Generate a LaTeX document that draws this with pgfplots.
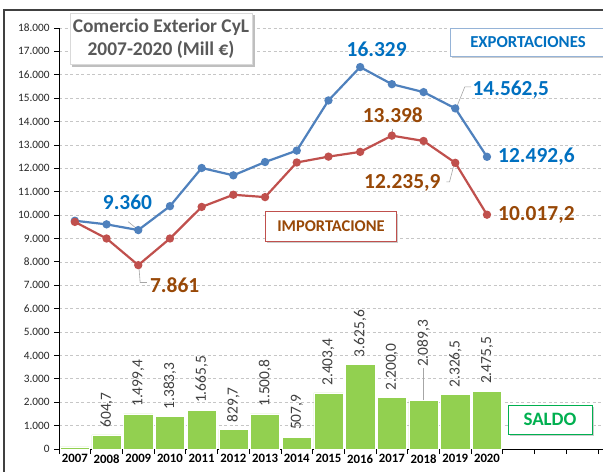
\documentclass[border=0pt]{standalone}
\usepackage{fontspec}
\setmainfont{Carlito}
\usepackage{pgfplots}
\pgfplotsset{compat=1.18}
\definecolor{expblue}{HTML}{4F81BD}
\definecolor{impred}{HTML}{C0504D}
\definecolor{lblue}{HTML}{0070C0}
\definecolor{lbrown}{HTML}{984807}
\definecolor{barg}{HTML}{92D050}
\definecolor{sgreen}{HTML}{00B050}
\definecolor{titgray}{HTML}{595959}
\newcommand\xl[1]{\bfseries\fontsize{12.8}{14}\selectfont #1}
\begin{document}
\begin{tikzpicture}
\useasboundingbox (0bp,0bp) rectangle (603bp,472bp);
\clip (0bp,0bp) rectangle (603bp,472bp);
\fill[white] (0bp,0bp) rectangle (603bp,472bp);
\draw[line width=1.6bp, black!75] (4bp,-5bp) -- (4bp,462bp) -- (620bp,462bp);
\begin{axis}[
  at={(59bp,23bp)}, anchor=south west, scale only axis,
  width=544bp, height=421bp,
  xmin=-0.5, xmax=16.66, ymin=0, ymax=18000,
  axis x line*=bottom, axis y line*=left,
  axis line style={-, black, line width=0.9bp},
  tick align=outside,
  major tick length=5bp,
  tick style={black, line width=0.8bp},
  ytick={0,1000,...,18000},
  scaled y ticks=false,
  yticklabel={\fontsize{11.3}{13}\selectfont\pgfmathprintnumber[fixed,precision=0,1000 sep={.},assume math mode=true]{\tick}},
  yticklabel style={text=black!85, xshift=-1bp},
  xtick={-0.5,0.5,...,16.5}, xticklabels={},
  extra x ticks={0,1,...,13},
  extra x tick labels={\xl{2007},\xl{2008},\xl{2009},\xl{2010},\xl{2011},\xl{2012},\xl{2013},\xl{2014},\xl{2015},\xl{2016},\xl{2017},\xl{2018},\xl{2019},\xl{2020}},
  extra x tick style={major tick length=0pt, grid=none},
  xticklabel style={text=black, yshift=-2bp},
  ymajorgrids=true,
  major grid style={gray!45, line width=0.7bp, dash pattern=on 3bp off 2.5bp},
  clip=false,
]
\addplot[ybar, bar width=0.92, fill=barg, draw=white, line width=0.4bp,
  nodes near coords, point meta=explicit symbolic,
  every node near coord/.append style={rotate=90, anchor=west, inner xsep=7bp,
     font=\fontsize{15.5}{17}\selectfont, text=black!75}]
 coordinates {(0,90) [] (1,604.7) [604,7] (2,1499.4) [1.499,4] (3,1383.3) [1.383,3]
  (4,1665.5) [1.665,5] (5,829.7) [829,7] (6,1500.8) [1.500,8] (7,507.9) [507,9]
  (8,2403.4) [2.403,4] (9,3625.6) [3.625,6] (10,2200.0) [2.200,0] (11,2089.3) []
  (12,2326.5) [2.326,5] (13,2475.5) [2.475,5]};
\addplot[color=expblue, line width=2.2bp, mark=*, mark size=3bp, mark options={solid, fill=expblue}]
 coordinates {(0,9760) (1,9605) (2,9360) (3,10383) (4,12015) (5,11700) (6,12270)
  (7,12758) (8,14903) (9,16329) (10,15598) (11,15259) (12,14562.5) (13,12492.6)};
\addplot[color=impred, line width=2.2bp, mark=*, mark size=3bp, mark options={solid, fill=impred}]
 coordinates {(0,9710) (1,9000) (2,7861) (3,9000) (4,10350) (5,10870) (6,10770)
  (7,12250) (8,12500) (9,12703.4) (10,13398) (11,13170) (12,12235.9) (13,10017.2)};
% 2018 saldo label with leader
\draw[gray!70, line width=0.6bp] (axis cs:11,2089.3) -- (axis cs:11,3480);
\node[rotate=90, anchor=west, inner xsep=0pt, font=\fontsize{15.5}{17}\selectfont, text=black!75] at (axis cs:11,3500) {2.089,3};
% line data labels
\begin{scope}[font=\bfseries\fontsize{21.5}{24}\selectfont]
\node[text=lblue] at (axis cs:1.66,10560) {9.360};
\node[text=lblue] at (axis cs:9.52,17090) {16.329};
\node[text=lblue] at (axis cs:13.75,15380) {14.562,5};
\node[text=lblue] at (axis cs:14.56,12500) {12.492,6};
\node[text=lbrown] at (axis cs:10.03,14280) {13.398};
\node[text=lbrown] at (axis cs:10.33,11360) {12.235,9};
\node[text=lbrown] at (axis cs:14.56,10005) {10.017,2};
\node[text=lbrown] at (axis cs:3.15,7010) {7.861};
\end{scope}
\draw[gray!70, line width=0.6bp] (axis cs:1.68,9720) -- (axis cs:1.95,9420);
\draw[gray!70, line width=0.6bp] (axis cs:12.5,15480) -- (axis cs:12.3,15480) -- (axis cs:12.05,14640);
\draw[gray!70, line width=0.6bp] (axis cs:10,13700) -- (axis cs:10,13460);
\draw[gray!70, line width=0.6bp] (axis cs:11.72,11420) -- (axis cs:11.82,11420) -- (axis cs:11.96,12170);
\draw[gray!70, line width=0.6bp] (axis cs:2.02,7800) -- (axis cs:2.06,7120) -- (axis cs:2.27,7120);
\end{axis}
% title box
\fill[black!25] (72bp,405bp) rectangle (255bp,457bp);
\filldraw[fill=white, draw=black!15, line width=0.5bp] (70bp,408bp) rectangle (252bp,459bp);
\node[align=center, text=titgray, font=\bfseries\fontsize{19.5}{23}\selectfont] at (161bp,433.5bp) {Comercio Exterior CyL\\2007-2020 (Mill €)};
% exportaciones box
\fill[black!20] (452bp,414bp) rectangle (620bp,442bp);
\filldraw[fill=white, draw=expblue!60, line width=0.8bp] (450bp,416bp) rectangle (620bp,444bp);
\node[text=lblue, font=\bfseries\fontsize{16.8}{19}\selectfont] at (528bp,429.5bp) {EXPORTACIONES};
% importacione box
\fill[black!20] (267bp,229bp) rectangle (398bp,258bp);
\filldraw[fill=white, draw=impred, line width=0.8bp] (265bp,230.5bp) rectangle (396.5bp,260.5bp);
\node[text=lbrown, font=\bfseries\fontsize{16.5}{19}\selectfont] at (331bp,245.5bp) {IMPORTACIONE};
% saldo box
\fill[black!20] (510bp,36bp) rectangle (594bp,65bp);
\filldraw[fill=white, draw=sgreen, line width=0.8bp] (508bp,38bp) rectangle (592bp,67bp);
\node[text=sgreen, font=\bfseries\fontsize{19}{21}\selectfont] at (550bp,52.5bp) {SALDO};
\end{tikzpicture}
\end{document}
